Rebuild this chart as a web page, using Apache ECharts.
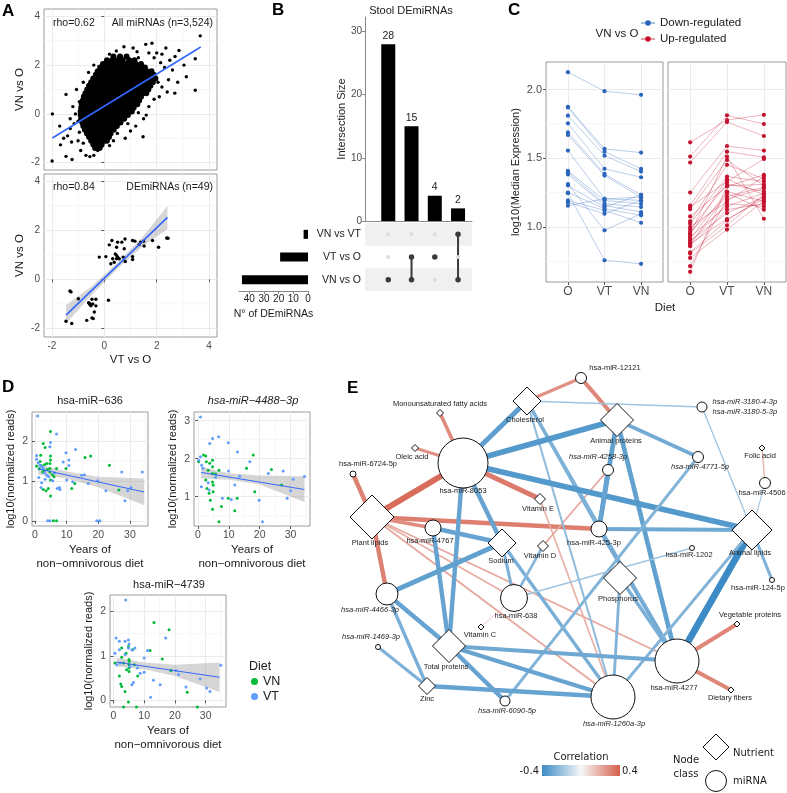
<!DOCTYPE html>
<html><head><meta charset="utf-8">
<script src="https://cdn.jsdelivr.net/npm/echarts@6/dist/echarts.min.js"></script>
<style>html,body{margin:0;padding:0;background:#fff}#c{width:787px;height:793px}</style>
</head><body><div id="c"></div>
<script>
// ---------------- DATA ----------------
// Panel A (top): all miRNAs, dense core rows [y, [x...]] and sparse points
const aCoreRows = [
 [2.35,[0.35,0.6,0.85]],
 [2.2,[0.1,0.3,0.5,0.7,0.95,1.15]],
 [2.05,[-0.05,0.15,0.32,0.5,0.68,0.85,1.02,1.2,1.4]],
 [1.9,[-0.15,0.02,0.2,0.36,0.52,0.7,0.86,1.03,1.2,1.36,1.55]],
 [1.75,[-0.25,-0.08,0.1,0.26,0.43,0.6,0.77,0.94,1.1,1.27,1.44,1.62,1.8]],
 [1.6,[-0.32,-0.15,0.02,0.18,0.35,0.52,0.68,0.85,1.02,1.18,1.35,1.52,1.7,1.88]],
 [1.45,[-0.42,-0.25,-0.08,0.1,0.27,0.44,0.6,0.77,0.94,1.1,1.27,1.44,1.6,1.78,1.95]],
 [1.3,[-0.5,-0.33,-0.16,0.02,0.18,0.35,0.52,0.68,0.85,1.02,1.18,1.35,1.52,1.7,1.85]],
 [1.15,[-0.58,-0.4,-0.23,-0.06,0.1,0.27,0.44,0.6,0.77,0.94,1.1,1.27,1.44,1.6,1.76]],
 [1.0,[-0.65,-0.48,-0.3,-0.13,0.03,0.2,0.36,0.53,0.7,0.86,1.03,1.2,1.36,1.53,1.68]],
 [0.85,[-0.72,-0.55,-0.38,-0.2,-0.04,0.13,0.3,0.46,0.63,0.8,0.96,1.13,1.3,1.46,1.6]],
 [0.7,[-0.78,-0.6,-0.43,-0.26,-0.1,0.07,0.24,0.4,0.57,0.74,0.9,1.07,1.24,1.4]],
 [0.55,[-0.82,-0.65,-0.48,-0.3,-0.14,0.03,0.2,0.36,0.53,0.7,0.86,1.03,1.2,1.33]],
 [0.4,[-0.86,-0.7,-0.52,-0.35,-0.18,-0.02,0.15,0.32,0.48,0.65,0.82,0.98,1.15,1.26]],
 [0.25,[-0.88,-0.72,-0.55,-0.38,-0.22,-0.05,0.12,0.28,0.45,0.62,0.78,0.95,1.12]],
 [0.1,[-0.9,-0.73,-0.56,-0.4,-0.23,-0.06,0.1,0.27,0.44,0.6,0.77,0.94,1.05]],
 [-0.05,[-0.9,-0.73,-0.56,-0.4,-0.23,-0.06,0.1,0.27,0.44,0.6,0.77,0.9]],
 [-0.2,[-0.88,-0.7,-0.53,-0.37,-0.2,-0.03,0.14,0.3,0.47,0.64,0.76]],
 [-0.35,[-0.84,-0.67,-0.5,-0.33,-0.16,0.0,0.17,0.34,0.5,0.62]],
 [-0.5,[-0.8,-0.63,-0.46,-0.3,-0.13,0.04,0.2,0.36,0.48]],
 [-0.65,[-0.74,-0.57,-0.4,-0.23,-0.06,0.1,0.26,0.36]],
 [-0.8,[-0.66,-0.5,-0.33,-0.16,0.0,0.16,0.24]],
 [-0.95,[-0.58,-0.42,-0.25,-0.08,0.08,0.18]],
 [-1.1,[-0.5,-0.33,-0.17,0.0,0.1]],
 [-1.25,[-0.42,-0.26,-0.1]],
 [-1.4,[-0.35,-0.18]]
];
const aSparse = [
 [3.66,3.2],[3.47,2.26],[3.47,0.97],[3.13,1.52],[3.04,2.0],[2.85,2.6],[2.69,0.85],[1.82,2.9],[1.58,2.85],[2.0,2.5],[2.2,2.45],[2.35,2.7],[2.5,2.2],[2.3,1.9],[2.15,2.1],[2.6,1.8],[2.45,1.4],[2.2,1.1],[2.05,1.3],[1.9,2.3],[1.7,2.5],[1.25,2.55],[1.1,2.7],[0.46,2.58],[0.75,2.75],[2.8,1.3],[2.4,0.9],[1.9,0.6],[2.1,0.7],[1.7,0.3],[1.5,-0.2],[1.48,-0.94],[1.2,-0.5],[1.0,-0.7],[0.8,-1.0],[0.9,-0.4],
 [-1.98,0.0],[-1.99,-1.93],[-1.46,0.8],[-1.06,1.0],[-1.67,-1.27],[-1.46,-1.74],[-1.23,-1.87],[-1.3,-0.6],[-1.15,-0.4],[-1.4,-0.9],[-1.0,-1.1],[-0.9,-1.5],[-0.7,-1.7],[-0.55,-1.75],[-0.4,-1.7],[-0.25,-1.5],[-0.1,-1.35],[-1.2,0.3],[-0.95,0.5],[-0.8,1.3],[-0.6,1.7],[-0.4,2.0],[-1.3,-0.2],[-1.55,-1.0],[-1.7,-0.5],[-1.0,-0.3],[-0.95,-0.75],[-0.8,-1.2],[0.2,-1.3],[0.35,-1.1],[0.5,-0.8],[1.3,2.3],[0.2,2.45],[1.6,-0.05],[1.3,0.05],[-1.1,0.0],[-1.25,-1.15],[-0.2,1.95],[2.7,2.35]
];
const aAllFit = [[-1.98,-0.99],[3.68,2.74]];
// Panel A (bottom): DEmiRNAs
const aDePoints = [
 [-1.31,-0.47],[-1.27,-0.51],[-0.99,-0.79],[-1.46,-1.71],[-1.24,-1.80],[-0.60,-0.95],[-0.55,-1.02],[-0.47,-0.81],[-0.32,-0.81],[-0.51,-1.08],[-0.32,-1.08],[-0.38,-1.33],[-0.47,-1.57],[-0.42,-1.60],[-0.67,-1.67],[0.16,-0.85],[-0.56,-0.98],[-0.44,-1.0],
 [-0.19,0.91],[0.06,0.93],[0.32,0.84],[0.29,1.59],[0.19,1.41],[0.51,1.52],[0.47,1.31],[0.42,1.04],[0.47,0.98],[0.38,0.70],[0.25,0.64],[0.47,0.84],[0.51,0.91],[0.67,1.52],[0.79,1.65],[0.76,1.25],[0.72,0.91],[0.80,0.73],[1.08,0.93],[1.08,0.81],[1.08,1.59],[1.17,1.56],[1.33,1.42],[1.39,1.52],[1.50,1.56],[1.52,1.36],[1.84,1.59],[2.07,1.31],[2.38,1.69],[2.43,1.68],[0.57,0.84]
];
const aDeFit = [[-1.46,-1.46],[2.41,2.53]];
const aDeBandX = [-1.46,-0.5,0.5,1.5,2.41];
const aDeBandLo = [-1.8,-0.66,0.43,1.38,2.06];
const aDeBandHi = [-1.05,-0.3,0.68,1.78,2.99];

// Panel B: UpSet
const bSetNames = ['VN vs O','VT vs O','VN vs VT'];   // bottom -> top
const bSetSizes = [45,19,3];
const bInterSizes = [28,15,4,2];
const bInterMembers = [[0],[0,1],[1],[0,2]];

// Panel C: median expression per diet
const cDiet = ['O','VT','VN'];
const cDown = [
 [2.126,1.988,1.961],[1.874,1.568,1.541],[1.870,1.548,1.423],[1.81,1.519,1.403],[1.754,1.423,1.362],[1.688,1.386,1.234],
 [1.669,1.374,1.217],[1.556,1.205,1.193],[1.408,1.193,1.169],[1.399,1.169,1.145],[1.382,1.157,1.109],[1.312,0.976,1.097],
 [1.302,1.145,1.234],[1.251,1.133,1.085],[1.246,0.758,0.732],[1.193,1.121,1.031],[1.179,1.097,1.193],[1.155,1.205,1.217]
];
const cUp = [
 [1.616,1.778,1.816],[1.512,1.812,1.749],[1.469,1.763,1.662],[1.251,1.589,1.556],[1.155,1.548,1.507],[1.145,1.331,1.495],
 [1.130,1.488,1.300],[1.077,1.295,1.379],[1.041,1.452,1.350],[1.024,1.367,1.331],[1.00,1.186,1.367],[0.981,1.314,1.258],
 [0.964,1.222,1.290],[0.944,1.348,1.234],[0.928,1.150,1.246],[0.913,1.258,1.186],[0.90,1.101,1.217],[0.891,1.169,1.150],
 [0.879,1.058,1.203],[0.870,1.246,1.126],[0.860,1.126,1.169],[0.816,1.048,1.22],[0.807,1.012,1.24],[0.775,0.981,1.19],
 [0.715,1.203,1.28],[0.674,1.30,1.31],[0.95,1.512,1.060]
];

// Panel D: years of diet vs log10 reads
const d636VN = [[0.5,1.37],[1.8,1.64],[2.6,1.93],[3.2,1.83],[3.7,1.43],[2.4,1.22],[2.6,0.78],[3.5,0.75],[4.2,0.81],[4.9,2.23],[4.9,1.62],[4.9,1.52],[4.7,1.43],[4.7,1.31],[4.7,1.22],[4.9,1.02],[4.9,0.62],[6.8,1.31],[6.8,0],[5.8,0],[9.8,1.31],[11.6,0.81],[12.6,0.93],[15.8,1.58],[17.6,1.62],[23.5,1.39],[26.5,0.77],[1.6,1.48],[1.3,1.3],[2.0,1.38],[3.0,1.4],[5.5,1.15],[3.9,1.28],[2.9,1.25],[6.0,1.1]];
const d636VT = [[0.84,2.62],[0.5,1.63],[0.5,1.54],[1.6,1.39],[2.1,0.95],[1.9,0.83],[3.7,1.14],[3.2,1.04],[4.9,1.96],[4.7,1.85],[6.8,2.17],[7.0,0.81],[7.7,0.83],[7.9,0.78],[8.9,1.47],[9.8,1.70],[10,1.02],[10.7,1.52],[10.7,1.38],[11.9,0.975],[12.8,1.78],[14.7,1.14],[16.8,0.93],[19.5,0],[20.5,0],[22.4,0.75],[27.4,1.22],[28.4,0.5],[29.3,0.75],[30.3,0.83],[33.9,1.22],[4,0],[4.7,0],[2.6,1.31],[1.2,1.08],[3.0,1.2],[2.2,1.35],[6.2,1.2],[4.3,1.1],[5.6,1.0],[1.0,1.45],[19.8,1.0],[15.6,1.15]];
const d636Fit = [[1,1.3],[34.5,0.72]];
const d636BandX = [1,10,20,34.5];
const d636Lo = [1.16,1.06,0.84,0.39];
const d636Hi = [1.42,1.23,1.10,1.06];

const d4488VN = [[0.2,1.92],[1.8,2.1],[2.5,2.07],[2.7,1.92],[3.8,1.88],[3.3,1.70],[2.5,1.44],[2.9,1.22],[3.6,1.09],[4.0,0.91],[4.7,1.96],[4.7,1.79],[4.7,1.61],[4.7,1.39],[4.9,1.31],[4.9,1.13],[4.7,0.67],[5.7,1.60],[6.8,1.70],[7.6,0.74],[6.8,0.34],[9.8,0.96],[11.9,0.63],[12.7,0.96],[15.7,1.75],[17.9,2.1],[18.4,1.13],[23.8,1.72],[27.1,1.31],[4.0,0.22],[4.9,0.22]];
const d4488VT = [[0.8,3.1],[0.2,1.96],[0.8,2.05],[1.6,1.75],[1.1,1.26],[3.3,1.37],[3.6,1.18],[3.8,2.4],[4.7,2.53],[6.7,2.58],[5.7,1.51],[7.9,0.96],[9.8,2.42],[9.9,1.68],[10.8,0.93],[11.9,1.31],[12.8,2.18],[13.5,1.54],[16.8,1.92],[19.8,0.91],[20.9,0.34],[22.8,1.61],[27.6,1.68],[28.9,0.96],[30,1.16],[30.9,1.46],[34.5,1.53],[3.8,0.21],[1.2,1.83]];
const d4488Fit = [[1,1.64],[34.5,1.19]];
const d4488BandX = [1,10,20,34.5];
const d4488Lo = [1.48,1.45,1.32,0.86];
const d4488Hi = [1.79,1.62,1.56,1.54];

const d4739VN = [[0.5,0.84],[2.7,0.97],[3.3,0.84],[4.1,1.06],[4.9,1.21],[5.1,0.88],[5.1,0.80],[5.1,0.73],[5.1,0.65],[4.3,0.69],[6.3,1.14],[6.8,0.80],[7.9,0.55],[1.95,0.55],[2.4,0.37],[2.7,0.31],[3.8,0.20],[4.9,-0.04],[3.3,-0.15],[7.5,-0.15],[11.9,1.12],[15.9,0.93],[18.7,0.67],[24.0,0.18],[27.3,-0.15],[2.7,1.18],[13.2,1.75],[18.1,1.59],[5.1,0.92]];
const d4739VT = [[0.9,1.40],[1.95,1.33],[0.5,1.06],[1.95,1.14],[3.8,1.33],[4.9,1.36],[5.1,1.27],[4.9,1.18],[3.8,1.03],[6.0,1.14],[7.0,1.18],[5.4,0.76],[6.0,0.35],[6.5,0.40],[7.8,0.73],[8.7,0.61],[10,0.95],[10,0.63],[11.1,1.12],[12.1,0.07],[13,0.45],[15.2,0.35],[20.3,0.67],[21.2,0.58],[23.6,0.30],[28.2,0.48],[30.3,0.28],[31.4,0.20],[34.9,0.79],[1.1,0.80],[2.2,0.84],[4.0,2.26],[17,1.40]];
const d4739Fit = [[1,0.86],[34.5,0.52]];
const d4739BandX = [1,10,20,34.5];
const d4739Lo = [0.76,0.70,0.55,0.19];
const d4739Hi = [0.96,0.85,0.80,0.85];

// Panel E: network (layout units), [name, class, x, y, size, labelDx, labelDy, italic]
const eNodes = [
 ['hsa-miR-8053','m',123,103,50,0,28,0],
 ['Cholesterol','n',187,41,28,-2,19,0],
 ['hsa-miR-12121','m',241,18,11,34,-10,0],
 ['Animal proteins','n',277,60,33,-1,21,0],
 ['hsa-miR-3180','m',362,47,10,0,0,1],
 ['Monounsaturated fatty acids','n',100,53,7,0,-9,0],
 ['Oleic acid','n',75,88,7,-3,9,0],
 ['hsa-miR-6724-5p','m',13,114,6,15,-10,0],
 ['Plant lipids','n',32,157,44,-2,26,0],
 ['hsa-miR-4767','m',93,168,16,-3,13,0],
 ['Sodium','n',162,183,28,-1,18,0],
 ['Vitamin E','n',200,139,11,-2,10,0],
 ['Vitamin D','n',203,186,11,-3,10,0],
 ['hsa-miR-4258-3p','m',268,110,11,-10,-13,1],
 ['hsa-miR-425-3p','m',259,169,16,-5,14,0],
 ['hsa-miR-4771-5p','m',358,97,11,2,10,1],
 ['Folic acid','n',422,88,6,-2,8,0],
 ['hsa-miR-4506','m',425,123,11,-3,10,0],
 ['Animal lipids','n',412,170,40,-2,23,0],
 ['hsa-miR-1202','m',352,188,5,-3,7,0],
 ['hsa-miR-124-5p','m',432,220,5,-14,8,0],
 ['Phosphorus','n',280,218,33,-2,21,0],
 ['hsa-miR-4466-3p','m',47,234,22,-17,16,1],
 ['hsa-miR-638','m',174,238,27,2,18,0],
 ['Vitamin C','n',141,267,6,-1,8,0],
 ['hsa-miR-1469-3p','m',38,287,5,-7,-10,1],
 ['Total proteins','n',109,286,33,-3,21,0],
 ['Zinc','n',87,326,17,0,13,0],
 ['hsa-miR-6090-5p','m',165,341,10,2,10,1],
 ['hsa-miR-1260a-3p','m',273,337,44,1,27,1],
 ['hsa-miR-4277','m',337,301,44,-3,27,0],
 ['Vegetable proteins','n',397,264,6,13,-9,0],
 ['Dietary fibers','n',391,330,6,-1,8,0]
];
// [source, target, correlation]
const eEdges = [
 ['hsa-miR-12121','Cholesterol',0.27],['hsa-miR-12121','Animal proteins',0.30],
 ['Monounsaturated fatty acids','hsa-miR-8053',0.28],['Oleic acid','hsa-miR-8053',0.27],
 ['hsa-miR-6724-5p','Plant lipids',0.31],['Plant lipids','hsa-miR-8053',0.37],
 ['hsa-miR-8053','Vitamin E',0.33],['Plant lipids','hsa-miR-425-3p',0.32],
 ['Plant lipids','hsa-miR-4767',0.28],['Plant lipids','hsa-miR-4466-3p',0.31],
 ['Plant lipids','hsa-miR-4277',0.21],['Plant lipids','hsa-miR-1260a-3p',0.21],
 ['Plant lipids','hsa-miR-638',0.20],['Vitamin E','hsa-miR-1260a-3p',0.20],
 ['Vitamin D','hsa-miR-4258-3p',0.21],['Vitamin C','hsa-miR-638',0.16],
 ['Folic acid','hsa-miR-4506',0.19],['Vegetable proteins','hsa-miR-4277',0.30],
 ['Dietary fibers','hsa-miR-4277',0.30],
 ['Cholesterol','hsa-miR-3180',-0.19],['hsa-miR-3180','Animal lipids',-0.19],
 ['Cholesterol','hsa-miR-8053',-0.33],['Cholesterol','hsa-miR-425-3p',-0.26],
 ['Cholesterol','hsa-miR-4277',-0.26],['Cholesterol','hsa-miR-1260a-3p',-0.22],
 ['Animal proteins','hsa-miR-8053',-0.35],['Animal proteins','hsa-miR-4771-5p',-0.28],
 ['Animal proteins','hsa-miR-425-3p',-0.32],['Animal proteins','hsa-miR-4277',-0.32],
 ['hsa-miR-8053','Animal lipids',-0.35],['hsa-miR-8053','Sodium',-0.31],
 ['hsa-miR-8053','Total proteins',-0.31],['hsa-miR-4767','Sodium',-0.31],
 ['hsa-miR-4767','Total proteins',-0.31],['Sodium','hsa-miR-4466-3p',-0.32],
 ['Sodium','hsa-miR-638',-0.26],['Sodium','hsa-miR-1260a-3p',-0.27],
 ['hsa-miR-425-3p','Animal lipids',-0.29],['hsa-miR-425-3p','hsa-miR-4277',-0.28],
 ['hsa-miR-4258-3p','hsa-miR-425-3p',-0.31],['hsa-miR-4771-5p','hsa-miR-6090-5p',-0.25],
 ['hsa-miR-4506','Animal lipids',-0.18],['Animal lipids','hsa-miR-124-5p',-0.26],
 ['Animal lipids','hsa-miR-4277',-0.40],['Animal lipids','hsa-miR-1260a-3p',-0.25],
 ['hsa-miR-1202','hsa-miR-638',-0.19],['Phosphorus','hsa-miR-1260a-3p',-0.25],
 ['Phosphorus','hsa-miR-4277',-0.27],['Vitamin D','hsa-miR-638',-0.24],
 ['hsa-miR-4466-3p','Total proteins',-0.31],['hsa-miR-4466-3p','Zinc',-0.27],
 ['hsa-miR-1469-3p','Zinc',-0.26],['Zinc','hsa-miR-1260a-3p',-0.31],
 ['Total proteins','hsa-miR-4277',-0.29],['Total proteins','hsa-miR-1260a-3p',-0.31],
 ['Total proteins','hsa-miR-6090-5p',-0.31]
];

// ---------------- CHART ----------------
const FONT = '"Liberation Sans", Arial, Helvetica, sans-serif';
const DJV = '"DejaVu Sans", sans-serif';
const BLUE_END=[60,139,198], RED_END=[214,96,77], MID=[247,247,247];
function corrColor(r){const t=Math.min(1,Math.abs(r)/0.4);const e=r<0?BLUE_END:RED_END;return 'rgb('+MID.map((m,i)=>Math.round(m+(e[i]-m)*t)).join(',')+')';}
function corrWidth(r){return Math.max(0.8,(Math.abs(r)-0.14)*26);}

const grid = [
 {left:44,top:9,width:173,height:161},
 {left:44,top:174,width:173,height:163},
 {left:365,top:17,width:107,height:204},
 {left:365,top:223,width:107,height:68},
 {left:239,top:223,width:69,height:68},
 {left:546,top:62,width:117,height:220},
 {left:668,top:62,width:118,height:220},
 {left:32,top:412,width:116,height:114},
 {left:194,top:412,width:116,height:114},
 {left:110,top:595,width:116,height:112},
 {left:340,top:360,width:447,height:400}
];
[0,1,5,6,7,8,9].forEach(i=>{grid[i].show=true;grid[i].borderColor='#9a9a9a';grid[i].borderWidth=1;grid[i].backgroundColor='#fff';});

function vAxis(gi,min,max,ticks,o){
  o=o||{};
  const a={type:'value',gridIndex:gi,min:min,max:max,
    axisLine:{show:false},
    axisTick:{show:o.tick!==false,length:3,lineStyle:{color:'#555'},customValues:ticks},
    axisLabel:{show:o.label!==false,customValues:ticks,color:'#4d4d4d',fontSize:o.labelSize||10,fontFamily:FONT,margin:o.margin||4},
    splitLine:{show:true,lineStyle:{color:'#ebebeb',width:1}}};
  if(o.formatter) a.axisLabel.formatter=o.formatter;
  if(o.name){a.name=o.name;a.nameLocation='middle';a.nameGap=o.nameGap;
    a.nameTextStyle={fontFamily:FONT,fontSize:o.nameSize||11,color:'#1a1a1a',lineHeight:14};}
  return a;
}
// minor grid lines drawn as a low-z custom series
function minorLines(gi,xs,ys){
  const items=xs.map(v=>[0,v]).concat(ys.map(v=>[1,v]));
  return {type:'custom',xAxisIndex:gi,yAxisIndex:gi,silent:true,z:1,data:items,
    renderItem:function(params,api){
      const cs=params.coordSys, kind=api.value(0), v=api.value(1);
      if(kind===0){const p=api.coord([v,0]);return {type:'line',shape:{x1:p[0],y1:cs.y,x2:p[0],y2:cs.y+cs.height},style:{stroke:'#f2f2f2',lineWidth:0.7}};}
      const p=api.coord([0,v]);return {type:'line',shape:{x1:cs.x,y1:p[1],x2:cs.x+cs.width,y2:p[1]},style:{stroke:'#f2f2f2',lineWidth:0.7}};
    }};
}
function band(gi,xs,lo,hi){
  return {type:'custom',xAxisIndex:gi,yAxisIndex:gi,silent:true,z:2,data:[[xs[0],lo[0]]],
    renderItem:function(params,api){
      const pts=[];
      for(let i=0;i<xs.length;i++) pts.push(api.coord([xs[i],hi[i]]));
      for(let i=xs.length-1;i>=0;i--) pts.push(api.coord([xs[i],lo[i]]));
      return {type:'polygon',shape:{points:pts},style:{fill:'rgba(153,153,153,0.4)'}};
    }};
}
function fitLine(gi,d,w){return {type:'line',xAxisIndex:gi,yAxisIndex:gi,symbol:'none',silent:true,lineStyle:{color:'#3366ff',width:w},data:d,z:6};}

const xAxis=[], yAxis=[], series=[];
// A top
xAxis.push(vAxis(0,-2.3,4.3,[-2,0,2,4],{label:false,tick:false}));
yAxis.push(vAxis(0,-2.3,4.3,[-2,0,2,4],{name:'VN vs O',nameGap:10,nameSize:11.5}));
// A bottom
xAxis.push(vAxis(1,-2.3,4.3,[-2,0,2,4],{name:'VT vs O',nameGap:16,nameSize:11.5}));
yAxis.push(vAxis(1,-2.35,4.3,[-2,0,2,4],{name:'VN vs O',nameGap:10,nameSize:11.5}));
// B top bars
xAxis.push({type:'value',gridIndex:2,min:0,max:4.6,axisLine:{show:true,lineStyle:{color:'#888'}},axisTick:{show:false},axisLabel:{show:false},splitLine:{show:false}});
yAxis.push({type:'value',gridIndex:2,min:0,max:32.3,interval:10,name:'Intersection Size',nameLocation:'middle',nameGap:16,
  nameTextStyle:{fontFamily:FONT,fontSize:11,color:'#1a1a1a'},
  axisLine:{show:true,lineStyle:{color:'#888'}},axisTick:{show:true,length:3,lineStyle:{color:'#888'}},
  axisLabel:{fontFamily:FONT,fontSize:10,color:'#4d4d4d',margin:3,showMaxLabel:false},splitLine:{show:false}});
// B matrix
xAxis.push({type:'value',gridIndex:3,min:0,max:4.6,show:false});
yAxis.push({type:'category',gridIndex:3,data:bSetNames,axisLine:{show:false},axisTick:{show:false},
  axisLabel:{fontFamily:FONT,fontSize:10.5,color:'#222',margin:4},splitLine:{show:false}});
// B set sizes
xAxis.push({type:'value',gridIndex:4,min:0,max:47,interval:10,inverse:true,name:'N° of DEmiRNAs',nameLocation:'middle',nameGap:18,
  nameTextStyle:{fontFamily:FONT,fontSize:10.5,color:'#1a1a1a'},
  axisLine:{show:true,lineStyle:{color:'#888'}},axisTick:{show:true,length:3,lineStyle:{color:'#888'}},
  axisLabel:{fontFamily:FONT,fontSize:10,color:'#222',margin:3,showMaxLabel:false},splitLine:{show:false}});
yAxis.push({type:'category',gridIndex:4,data:bSetNames,show:false});
// C
const cFmt=v=>cDiet[Math.round(v)-1];
xAxis.push(vAxis(5,0.4,3.6,[1,2,3],{formatter:cFmt,labelSize:12}));
yAxis.push(vAxis(5,0.6,2.2,[1.0,1.5,2.0],{formatter:v=>v.toFixed(1),labelSize:11,name:'log10(Median Expression)',nameGap:20,nameSize:11}));
xAxis.push(vAxis(6,0.4,3.6,[1,2,3],{formatter:cFmt,labelSize:12}));
yAxis.push(vAxis(6,0.6,2.2,[1.0,1.5,2.0],{label:false,tick:false}));
// D
const dXname='Years of\nnon\u2212omnivorous diet', dYname='log10(normalized reads)';
xAxis.push(vAxis(7,-0.95,35.7,[0,10,20,30],{labelSize:10.5,name:dXname,nameGap:17,nameSize:11.5}));
yAxis.push(vAxis(7,-0.13,2.72,[0,1,2],{labelSize:10.5,name:dYname,nameGap:14,nameSize:11}));
xAxis.push(vAxis(8,-1.3,36.3,[0,10,20,30],{labelSize:10.5,name:dXname,nameGap:17,nameSize:11.5}));
yAxis.push(vAxis(8,0.23,3.23,[1,2,3],{labelSize:10.5,name:dYname,nameGap:14,nameSize:11}));
xAxis.push(vAxis(9,-1.1,36.6,[0,10,20,30],{labelSize:10.5,name:dXname,nameGap:17,nameSize:11.5}));
yAxis.push(vAxis(9,-0.15,2.37,[0,1,2],{labelSize:10.5,name:dYname,nameGap:14,nameSize:11}));
// E
xAxis.push({type:'value',gridIndex:10,min:0,max:447,show:false});
yAxis.push({type:'value',gridIndex:10,min:0,max:400,inverse:true,show:false});

// minor grid lines
series.push(minorLines(0,[-1,1,3],[-1,1,3]));
series.push(minorLines(1,[-1,1,3],[-1,1,3]));
series.push(minorLines(5,[],[0.75,1.25,1.75]));
series.push(minorLines(6,[],[0.75,1.25,1.75]));
series.push(minorLines(7,[5,15,25,35],[0.5,1.5,2.5]));
series.push(minorLines(8,[5,15,25,35],[0.5,1.5,2.5]));
series.push(minorLines(9,[5,15,25,35],[0.5,1.5]));

// A top
const aCore=[]; aCoreRows.forEach(r=>r[1].forEach(x=>aCore.push([x,r[0]])));
series.push({type:'scatter',name:'allCore',xAxisIndex:0,yAxisIndex:0,symbolSize:6,itemStyle:{color:'#000',opacity:1},data:aCore,z:4});
series.push({type:'scatter',name:'allSparse',xAxisIndex:0,yAxisIndex:0,symbolSize:3.4,itemStyle:{color:'#000',opacity:1},data:aSparse,z:4});
series.push(fitLine(0,aAllFit,1.6));
// A bottom
series.push(band(1,aDeBandX,aDeBandLo,aDeBandHi));
series.push({type:'scatter',name:'dePts',xAxisIndex:1,yAxisIndex:1,symbolSize:3.4,itemStyle:{color:'#000',opacity:1},data:aDePoints,z:4});
series.push(fitLine(1,aDeFit,1.6));

// B
series.push({type:'bar',xAxisIndex:2,yAxisIndex:2,barWidth:14,itemStyle:{color:'#000'},
  label:{show:true,position:'top',distance:3,fontFamily:FONT,fontSize:10.5,color:'#222'},
  data:bInterSizes.map((v,i)=>[i+1,v])});
series.push({type:'bar',xAxisIndex:3,yAxisIndex:3,barCategoryGap:'0%',silent:true,itemStyle:{color:'#f0f0f0'},z:1,
  data:bSetNames.map((s,i)=>i%2===0?4.6:'-')});
const bGray=[]; bInterSizes.forEach((v,i)=>bSetNames.forEach((s,j)=>{ if(bInterMembers[i].indexOf(j)<0) bGray.push([i+1,j]); }));
series.push({type:'scatter',xAxisIndex:3,yAxisIndex:3,symbolSize:4,itemStyle:{color:'#dcdcdc',opacity:1},data:bGray,z:3});
bInterMembers.forEach((m,i)=>{ if(m.length>1) series.push({type:'line',xAxisIndex:3,yAxisIndex:3,symbol:'none',lineStyle:{color:'#3a3a3a',width:2},data:[[i+1,Math.min(...m)],[i+1,Math.max(...m)]],z:3}); });
const bAct=[]; bInterMembers.forEach((m,i)=>m.forEach(j=>bAct.push([i+1,j])));
series.push({type:'scatter',xAxisIndex:3,yAxisIndex:3,symbolSize:5.5,itemStyle:{color:'#3a3a3a',opacity:1},data:bAct,z:4});
series.push({type:'bar',xAxisIndex:4,yAxisIndex:4,barWidth:9,itemStyle:{color:'#000'},data:bSetSizes});

// C
const C_BLUE='#2b66bd', C_RED='#c4122f';
cDown.forEach(t=>series.push({type:'line',name:'Down-regulated',xAxisIndex:5,yAxisIndex:5,symbol:'circle',symbolSize:4.2,
  itemStyle:{color:C_BLUE},lineStyle:{color:C_BLUE,width:0.8,opacity:0.4},data:t.map((v,i)=>[i+1,v]),z:4}));
cUp.forEach(t=>series.push({type:'line',name:'Up-regulated',xAxisIndex:6,yAxisIndex:6,symbol:'circle',symbolSize:4.2,
  itemStyle:{color:C_RED},lineStyle:{color:C_RED,width:0.8,opacity:0.4},data:t.map((v,i)=>[i+1,v]),z:4}));

// D
const VN_C='#00BA38', VT_C='#619CFF';
[[7,d636VN,d636VT,d636Fit,d636BandX,d636Lo,d636Hi],[8,d4488VN,d4488VT,d4488Fit,d4488BandX,d4488Lo,d4488Hi],[9,d4739VN,d4739VT,d4739Fit,d4739BandX,d4739Lo,d4739Hi]].forEach((p,k)=>{
  series.push(band(p[0],p[4],p[5],p[6]));
  series.push({type:'scatter',name:'VN',xAxisIndex:p[0],yAxisIndex:p[0],symbolSize:3,itemStyle:{color:VN_C,opacity:1},data:p[1],z:4});
  series.push({type:'scatter',name:'VT',xAxisIndex:p[0],yAxisIndex:p[0],symbolSize:3,itemStyle:{color:VT_C,opacity:1},data:p[2],z:4});
  series.push(fitLine(p[0],p[3],1));
});

// E
const nodePos={}; eNodes.forEach(n=>nodePos[n[0]]=[n[2],n[3]]);
series.push({type:'lines',coordinateSystem:'cartesian2d',xAxisIndex:10,yAxisIndex:10,silent:true,z:2,
  lineStyle:{opacity:1},
  data:eEdges.map(e=>({coords:[nodePos[e[0]],nodePos[e[1]]],lineStyle:{color:corrColor(e[2]),width:corrWidth(e[2]),opacity:1}}))});
series.push({type:'scatter',xAxisIndex:10,yAxisIndex:10,z:5,silent:true,
  itemStyle:{color:'#fff',borderColor:'#111',borderWidth:1,opacity:1},
  data:eNodes.map(n=>{
    const lab = n[0]==='hsa-miR-3180'
      ? {show:true,position:'right',distance:5,formatter:'hsa-miR-3180-4-3p\nhsa-miR-3180-5-3p',fontStyle:'italic',lineHeight:10,fontSize:7.5,fontFamily:FONT,color:'#222',align:'left'}
      : {show:true,position:'inside',offset:[n[5],n[6]],formatter:n[0],fontStyle:n[7]?'italic':'normal',fontSize:7.5,fontFamily:FONT,color:'#222'};
    return {name:n[0],value:[n[2],n[3]],symbol:n[1]==='n'?'diamond':'circle',symbolSize:n[4],label:lab};
  })});

// ---------------- TEXT / LEGEND DECORATION ----------------
function T(text,x,y,o){o=o||{};return {type:'text',x:x,y:y,silent:true,z:100,style:{text:text,fill:o.fill||'#1a1a1a',
  font:(o.italic?'italic ':'')+(o.bold?'bold ':'')+(o.size||11)+'px '+(o.family||FONT),textAlign:o.align||'left',textVerticalAlign:'middle'}};}
const graphic=[
 T('A',2,11,{bold:1,size:17,fill:'#000'}), T('B',272,10,{bold:1,size:17,fill:'#000'}), T('C',508,10,{bold:1,size:17,fill:'#000'}),
 T('D',2,387,{bold:1,size:17,fill:'#000'}), T('E',347,388,{bold:1,size:17,fill:'#000'}),
 T('rho=0.62',53,23,{size:10.5}), T('All miRNAs (n=3,524)',213,23,{size:10.5,align:'right'}),
 T('rho=0.84',53,187,{size:10.5}), T('DEmiRNAs (n=49)',213,187,{size:10.5,align:'right'}),
 T('Stool DEmiRNAs',411,11,{size:11,align:'center'}),
 T('VN vs O',617,34,{size:11.5,align:'center'}),
 T('Diet',665,308,{size:11.5,align:'center'}),
 T('hsa-miR\u2212636',90,401,{size:11,align:'center'}),
 T('hsa-miR\u22124488\u22123p',253,401,{size:11,align:'center',italic:1}),
 T('hsa-miR\u22124739',169,585,{size:11,align:'center'}),
 T('Diet',249,667,{size:12.5}),
 T('Correlation',581,757,{size:10,align:'center',family:DJV}),
 T('-0.4',539,771,{size:10,align:'right',family:DJV}),
 T('0.4',622,771,{size:10,family:DJV}),
 {type:'rect',shape:{x:542,y:765,width:78,height:11},silent:true,z:100,style:{fill:new echarts.graphic.LinearGradient(0,0,1,0,[
   {offset:0,color:'rgb('+BLUE_END.join(',')+')'},{offset:0.5,color:'rgb('+MID.join(',')+')'},{offset:1,color:'rgb('+RED_END.join(',')+')'}])}},
 T('Node',686,760,{size:10,align:'center',family:DJV}), T('class',686,774,{size:10,align:'center',family:DJV}),
 {type:'polygon',shape:{points:[[716,734],[729,747],[716,760],[703,747]]},silent:true,z:100,style:{fill:'#fff',stroke:'#111',lineWidth:1}},
 {type:'circle',shape:{cx:716,cy:781,r:10.5},silent:true,z:100,style:{fill:'#fff',stroke:'#111',lineWidth:1}},
 T('Nutrient',733,753,{size:10,family:DJV}), T('miRNA',733,781,{size:10,family:DJV})
];

const chart=echarts.init(document.getElementById('c'),null,{renderer:'canvas'});
chart.setOption({
  animation:false, backgroundColor:'#fff', textStyle:{fontFamily:FONT},
  grid:grid, xAxis:xAxis, yAxis:yAxis, series:series, graphic:graphic,
  legend:[
   {data:['Down-regulated','Up-regulated'],orient:'vertical',left:640,top:17,itemWidth:14,itemHeight:7,itemGap:4,padding:0,selectedMode:false,
    textStyle:{fontFamily:FONT,fontSize:11.5,color:'#1a1a1a'}},
   {data:['VN','VT'],orient:'vertical',left:251,top:675,itemWidth:7,itemHeight:7,itemGap:2,padding:0,selectedMode:false,icon:'circle',
    textStyle:{fontFamily:FONT,fontSize:12.5,color:'#1a1a1a'}}
  ]
});
</script></body></html>
